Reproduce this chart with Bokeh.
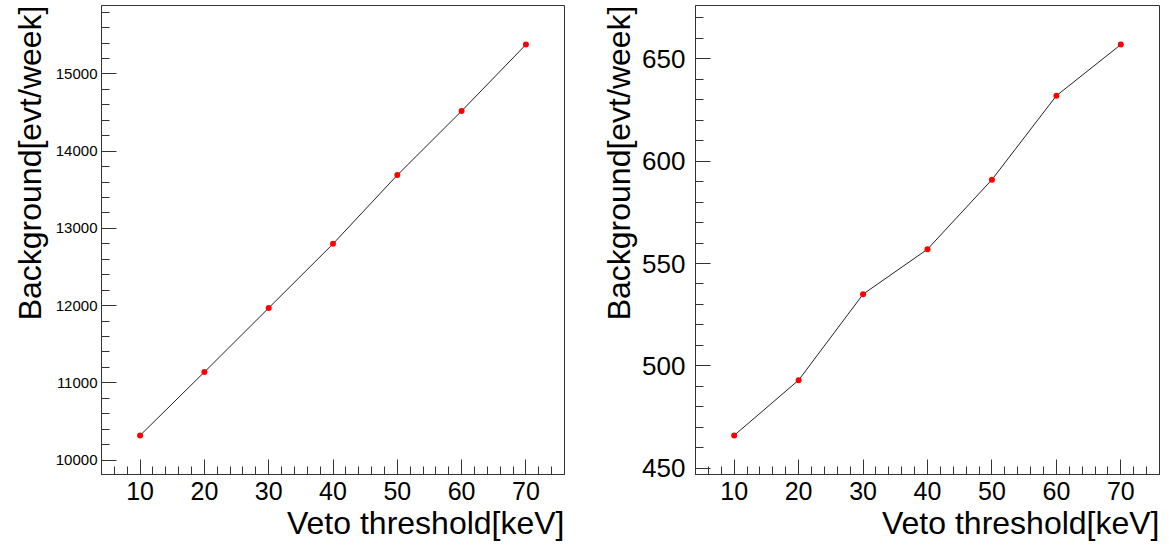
from bokeh.plotting import figure
from bokeh.layouts import row
from bokeh.models import Range1d, SingleIntervalTicker, Title
from bokeh.embed import file_html
from bokeh.resources import INLINE

# ---- data ----
thresholds = [10, 20, 30, 40, 50, 60, 70]
bkg_left = [10320, 11140, 11970, 12800, 13690, 14520, 15380]
bkg_right = [466, 493, 535, 557, 591, 632, 657]

x_title = "Veto threshold[keV]"
y_title = "Background[evt/week]"

FONT = "Liberation Sans"
AXC = "#333333"


def padded(vals):
    lo, hi = min(vals), max(vals)
    pad = 0.1 * (hi - lo)
    return lo - pad, hi + pad


def make_panel(yvals, width, b_left, b_right, y_interval, ytick_size, ylab_standoff, ytitle_standoff):
    x0, x1 = padded(thresholds)
    y0, y1 = padded(yvals)
    p = figure(width=width, height=546, output_backend="svg", toolbar_location=None,
               x_range=Range1d(x0, x1), y_range=Range1d(y0, y1),
               min_border_left=b_left, min_border_right=b_right,
               min_border_top=5, min_border_bottom=72)
    p.grid.visible = False
    p.outline_line_color = AXC
    p.outline_line_width = 1
    p.background_fill_color = "white"
    p.border_fill_color = "white"

    p.line(thresholds, yvals, line_color="#222222", line_width=1)
    p.scatter(thresholds, yvals, size=6, fill_color="#ff0000", line_color="#ff0000", line_width=0)

    xa = p.xaxis[0]
    xa.ticker = SingleIntervalTicker(interval=10, num_minor_ticks=5)
    xa.major_label_text_font = FONT
    xa.major_label_text_font_size = "25px"
    xa.major_label_text_color = "black"
    xa.major_label_standoff = 7

    ya = p.yaxis[0]
    ya.ticker = SingleIntervalTicker(interval=y_interval, num_minor_ticks=5)
    ya.major_label_text_font = FONT
    ya.major_label_text_font_size = ytick_size
    ya.major_label_text_color = "black"
    ya.major_label_standoff = ylab_standoff

    for ax in (xa, ya):
        ax.axis_line_color = AXC
        ax.major_tick_line_color = AXC
        ax.minor_tick_line_color = AXC
        ax.major_tick_in = 15
        ax.major_tick_out = 0
        ax.minor_tick_in = 8
        ax.minor_tick_out = 0

    # axis titles, aligned to the far end of each axis like the original
    p.add_layout(Title(text=x_title, align="right", standoff=0,
                       text_font=FONT, text_font_size="32px",
                       text_font_style="normal", text_color="black"), "below")
    p.add_layout(Title(text=y_title, align="right", standoff=ytitle_standoff,
                       text_font=FONT, text_font_size="32px",
                       text_font_style="normal", text_color="black"), "left")
    return p


p1 = make_panel(bkg_left, 584, 101, 20, 1000, "15px", 4, 10)
p2 = make_panel(bkg_right, 584, 111, 9, 50, "26px", 10, 6)

layout = row(p1, p2)
open("out.html", "w").write(file_html(layout, INLINE))
